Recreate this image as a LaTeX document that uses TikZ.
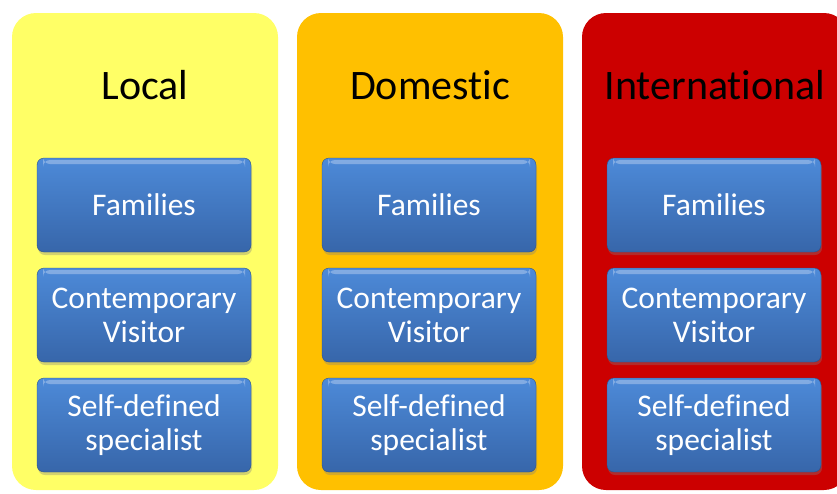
\documentclass[tikz,border=0pt]{standalone}
\usepackage{fontspec}
\setmainfont{Carlito}[Ligatures=NoCommon]
\usetikzlibrary{shadows}

\definecolor{paleyellow}{HTML}{FFFF66}
\definecolor{amber}{HTML}{FFC000}
\definecolor{crimson}{HTML}{CC0000}
\definecolor{boxtop}{HTML}{4D8AD8}
\definecolor{boxbottom}{HTML}{3766AA}

\begin{document}
\begin{tikzpicture}[x=1pt,y=-1pt,
	panel/.style={rectangle,rounded corners=24pt,inner sep=0pt,
		minimum width=266pt,minimum height=477pt},
	heading/.style={anchor=base,font=\fontsize{42}{50}\selectfont},
	item/.style={rectangle,rounded corners=7pt,inner sep=0pt,
		minimum width=214pt,minimum height=94pt,align=center,
		text=white,font=\fontsize{31.5}{34}\selectfont,
		top color=boxtop,bottom color=boxbottom,draw=boxbottom!80!black,
		drop shadow={opacity=0.35,shadow xshift=1pt,shadow yshift=-3pt},
		path picture={\fill[white,opacity=0.3]
			([xshift=6pt,yshift=-2pt]path picture bounding box.north west) rectangle
			([xshift=-6pt,yshift=-6pt]path picture bounding box.north east);}}]
	\useasboundingbox (0,0) rectangle (837,493);
	\clip (0,0) rectangle (837,493);
	%
	\def\columns {local/145/paleyellow/Local, domestic/430/amber/Domestic, intl/715/crimson/International}  % one panel each
	\foreach \name/\x/\col/\title in \columns
	{	\node[panel,fill=\col] (\name-panel) at (\x,251.5) {};
		\node[heading] (\name-head) at (\x,99) {\title};
		\node[item] (\name-fam)   at (\x-1,205) {Families};
		\node[item] (\name-visit) at (\x-1,315) {Contemporary\\Visitor};
		\node[item] (\name-spec)  at (\x-1,425) {Self-defined\\specialist};
	}
	%
\end{tikzpicture}
\end{document}
